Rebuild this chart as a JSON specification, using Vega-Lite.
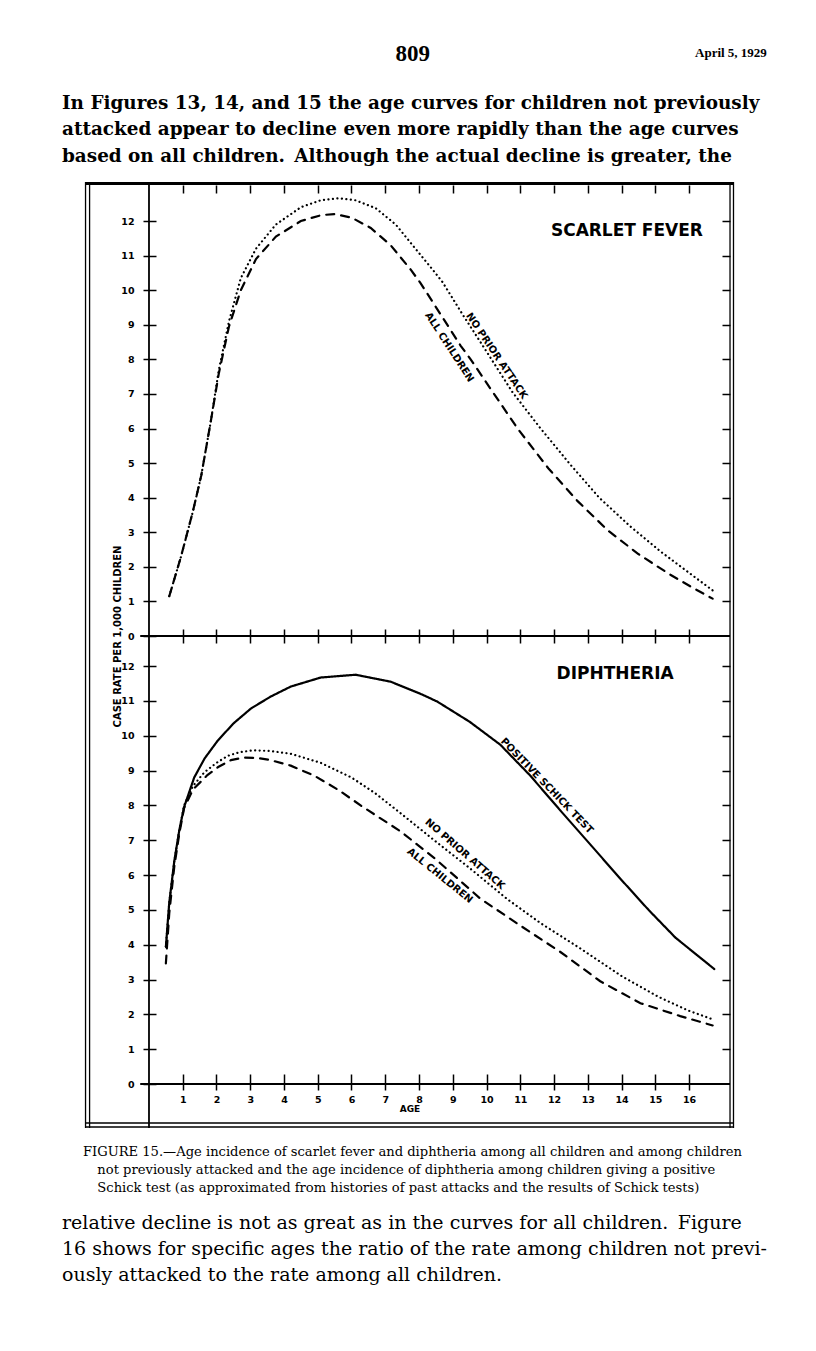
{
  "$schema": "https://vega.github.io/schema/vega-lite/v6.json",
  "background": "white",
  "padding": {"left": 62, "top": 42, "right": 10, "bottom": 10},
  "bounds": "flush",
  "spacing": 0,
  "title": {
    "text": "April 5, 1929",
    "anchor": "end",
    "frame": "bounds",
    "font": "Liberation Serif",
    "fontSize": 13,
    "fontWeight": "bold",
    "color": "black",
    "offset": -17
  },
  "config": {
    "view": {"stroke": null},
    "axis": {"grid": false, "labelFont": "DejaVu Sans", "labelFontWeight": "bold", "labelFontSize": 9.5, "labelColor": "black", "tickColor": "black", "domainColor": "black", "titleFont": "DejaVu Sans", "titleFontWeight": "bold", "titleFontSize": 10, "titleColor": "black", "labelFlush": false, "labelOverlap": false, "tickWidth": 1.5},
    "text": {"font": "DejaVu Sans", "fontWeight": "bold", "color": "black"},
    "rule": {"color": "black"},
    "line": {"color": "black"}
  },
  "datasets": {
    "scarlet": [
      {"series": "All children", "age": 0.6, "rate": 1.15},
      {"series": "All children", "age": 0.95, "rate": 2.3},
      {"series": "All children", "age": 1.3, "rate": 3.6},
      {"series": "All children", "age": 1.55, "rate": 4.65},
      {"series": "All children", "age": 1.83, "rate": 6.2},
      {"series": "All children", "age": 2.07, "rate": 7.6},
      {"series": "All children", "age": 2.37, "rate": 8.95},
      {"series": "All children", "age": 2.72, "rate": 10.0},
      {"series": "All children", "age": 3.17, "rate": 10.9},
      {"series": "All children", "age": 3.76, "rate": 11.55},
      {"series": "All children", "age": 4.5, "rate": 12.0},
      {"series": "All children", "age": 5.1, "rate": 12.17},
      {"series": "All children", "age": 5.5, "rate": 12.2},
      {"series": "All children", "age": 6.0, "rate": 12.1},
      {"series": "All children", "age": 6.57, "rate": 11.8},
      {"series": "All children", "age": 7.16, "rate": 11.3},
      {"series": "All children", "age": 7.75, "rate": 10.6},
      {"series": "All children", "age": 8.05, "rate": 10.2},
      {"series": "All children", "age": 8.64, "rate": 9.3},
      {"series": "All children", "age": 9.23, "rate": 8.4},
      {"series": "All children", "age": 9.53, "rate": 8.0},
      {"series": "All children", "age": 10.12, "rate": 7.15},
      {"series": "All children", "age": 10.92, "rate": 6.0},
      {"series": "All children", "age": 11.83, "rate": 4.85},
      {"series": "All children", "age": 12.7, "rate": 3.9},
      {"series": "All children", "age": 13.6, "rate": 3.05},
      {"series": "All children", "age": 14.5, "rate": 2.37},
      {"series": "All children", "age": 15.4, "rate": 1.8},
      {"series": "All children", "age": 16.1, "rate": 1.4},
      {"series": "All children", "age": 16.7, "rate": 1.08},
      {"series": "No prior attack", "age": 0.6, "rate": 1.15},
      {"series": "No prior attack", "age": 0.95, "rate": 2.3},
      {"series": "No prior attack", "age": 1.3, "rate": 3.6},
      {"series": "No prior attack", "age": 1.55, "rate": 4.65},
      {"series": "No prior attack", "age": 1.83, "rate": 6.2},
      {"series": "No prior attack", "age": 2.07, "rate": 7.7},
      {"series": "No prior attack", "age": 2.37, "rate": 9.1},
      {"series": "No prior attack", "age": 2.72, "rate": 10.35},
      {"series": "No prior attack", "age": 3.17, "rate": 11.2},
      {"series": "No prior attack", "age": 3.76, "rate": 11.9},
      {"series": "No prior attack", "age": 4.5, "rate": 12.4},
      {"series": "No prior attack", "age": 5.09, "rate": 12.6},
      {"series": "No prior attack", "age": 5.62, "rate": 12.66},
      {"series": "No prior attack", "age": 6.12, "rate": 12.6},
      {"series": "No prior attack", "age": 6.72, "rate": 12.37},
      {"series": "No prior attack", "age": 7.31, "rate": 11.9},
      {"series": "No prior attack", "age": 7.81, "rate": 11.3},
      {"series": "No prior attack", "age": 8.4, "rate": 10.6},
      {"series": "No prior attack", "age": 8.7, "rate": 10.23},
      {"series": "No prior attack", "age": 9.29, "rate": 9.3},
      {"series": "No prior attack", "age": 9.88, "rate": 8.41},
      {"series": "No prior attack", "age": 10.77, "rate": 7.05},
      {"series": "No prior attack", "age": 11.57, "rate": 6.04},
      {"series": "No prior attack", "age": 12.49, "rate": 4.95},
      {"series": "No prior attack", "age": 13.34, "rate": 4.0},
      {"series": "No prior attack", "age": 14.26, "rate": 3.17},
      {"series": "No prior attack", "age": 15.15, "rate": 2.45},
      {"series": "No prior attack", "age": 16.04, "rate": 1.8},
      {"series": "No prior attack", "age": 16.7, "rate": 1.32}
    ],
    "diphtheria": [
      {"series": "Positive Schick test", "age": 0.5, "rate": 3.94},
      {"series": "Positive Schick test", "age": 0.6, "rate": 5.2},
      {"series": "Positive Schick test", "age": 0.75, "rate": 6.4},
      {"series": "Positive Schick test", "age": 0.9, "rate": 7.3},
      {"series": "Positive Schick test", "age": 1.04, "rate": 7.95},
      {"series": "Positive Schick test", "age": 1.34, "rate": 8.8},
      {"series": "Positive Schick test", "age": 1.65, "rate": 9.35},
      {"series": "Positive Schick test", "age": 2.03, "rate": 9.85},
      {"series": "Positive Schick test", "age": 2.5, "rate": 10.35},
      {"series": "Positive Schick test", "age": 3.02, "rate": 10.78},
      {"series": "Positive Schick test", "age": 3.6, "rate": 11.12},
      {"series": "Positive Schick test", "age": 4.2, "rate": 11.41},
      {"series": "Positive Schick test", "age": 5.09, "rate": 11.67},
      {"series": "Positive Schick test", "age": 6.12, "rate": 11.75},
      {"series": "Positive Schick test", "age": 7.16, "rate": 11.55},
      {"series": "Positive Schick test", "age": 8.05, "rate": 11.2},
      {"series": "Positive Schick test", "age": 8.54, "rate": 10.98},
      {"series": "Positive Schick test", "age": 9.5, "rate": 10.4},
      {"series": "Positive Schick test", "age": 10.41, "rate": 9.74},
      {"series": "Positive Schick test", "age": 11.3, "rate": 8.85},
      {"series": "Positive Schick test", "age": 12.19, "rate": 7.85},
      {"series": "Positive Schick test", "age": 13.1, "rate": 6.85},
      {"series": "Positive Schick test", "age": 13.96, "rate": 5.9},
      {"series": "Positive Schick test", "age": 14.8, "rate": 5.0},
      {"series": "Positive Schick test", "age": 15.6, "rate": 4.2},
      {"series": "Positive Schick test", "age": 16.75, "rate": 3.3},
      {"series": "No prior attack", "age": 0.5, "rate": 3.94},
      {"series": "No prior attack", "age": 0.6, "rate": 5.2},
      {"series": "No prior attack", "age": 0.75, "rate": 6.4},
      {"series": "No prior attack", "age": 0.9, "rate": 7.3},
      {"series": "No prior attack", "age": 1.04, "rate": 8.0},
      {"series": "No prior attack", "age": 1.3, "rate": 8.55},
      {"series": "No prior attack", "age": 1.64, "rate": 8.95},
      {"series": "No prior attack", "age": 2.0, "rate": 9.22},
      {"series": "No prior attack", "age": 2.33, "rate": 9.42},
      {"series": "No prior attack", "age": 2.7, "rate": 9.53},
      {"series": "No prior attack", "age": 3.1, "rate": 9.58},
      {"series": "No prior attack", "age": 3.6, "rate": 9.56},
      {"series": "No prior attack", "age": 4.2, "rate": 9.48},
      {"series": "No prior attack", "age": 5.09, "rate": 9.22},
      {"series": "No prior attack", "age": 6.0, "rate": 8.8},
      {"series": "No prior attack", "age": 6.7, "rate": 8.35},
      {"series": "No prior attack", "age": 7.46, "rate": 7.77},
      {"series": "No prior attack", "age": 8.5, "rate": 6.96},
      {"series": "No prior attack", "age": 9.5, "rate": 6.2},
      {"series": "No prior attack", "age": 10.6, "rate": 5.32},
      {"series": "No prior attack", "age": 11.6, "rate": 4.62},
      {"series": "No prior attack", "age": 12.8, "rate": 3.88},
      {"series": "No prior attack", "age": 14.0, "rate": 3.1},
      {"series": "No prior attack", "age": 15.1, "rate": 2.5},
      {"series": "No prior attack", "age": 16.0, "rate": 2.1},
      {"series": "No prior attack", "age": 16.75, "rate": 1.84},
      {"series": "All children", "age": 0.5, "rate": 3.46},
      {"series": "All children", "age": 0.6, "rate": 4.9},
      {"series": "All children", "age": 0.75, "rate": 6.25},
      {"series": "All children", "age": 0.9, "rate": 7.2},
      {"series": "All children", "age": 1.04, "rate": 7.92},
      {"series": "All children", "age": 1.3, "rate": 8.45},
      {"series": "All children", "age": 1.73, "rate": 8.87},
      {"series": "All children", "age": 2.05, "rate": 9.1},
      {"series": "All children", "age": 2.43, "rate": 9.3},
      {"series": "All children", "age": 2.8, "rate": 9.37},
      {"series": "All children", "age": 3.2, "rate": 9.36},
      {"series": "All children", "age": 3.6, "rate": 9.3},
      {"series": "All children", "age": 4.2, "rate": 9.14},
      {"series": "All children", "age": 4.9, "rate": 8.85},
      {"series": "All children", "age": 5.6, "rate": 8.45},
      {"series": "All children", "age": 6.3, "rate": 7.98},
      {"series": "All children", "age": 7.46, "rate": 7.25},
      {"series": "All children", "age": 8.5, "rate": 6.45},
      {"series": "All children", "age": 9.82, "rate": 5.32},
      {"series": "All children", "age": 11.0, "rate": 4.55},
      {"series": "All children", "age": 12.19, "rate": 3.79},
      {"series": "All children", "age": 13.37, "rate": 2.95},
      {"series": "All children", "age": 14.56, "rate": 2.32},
      {"series": "All children", "age": 15.74, "rate": 1.95},
      {"series": "All children", "age": 16.7, "rate": 1.68}
    ]
  },
  "vconcat": [
    {
      "width": 649,
      "height": 454,
      "title": {
        "text": "\u200b\u2003\u2003\u2003\u2003\u2003\u2003\u2003\u2003\u2003\u2003\u2003\u2003\u2003\u2003\u2002809",
        "subtitle": ["In Figures 13, 14, and 15 the age curves for children not previously", "attacked appear to decline even more rapidly than the age curves", "based on all children.\u2002Although the actual decline is greater, the"],
        "anchor": "start", "frame": "group", "dx": -23, "offset": 16,
        "font": "Liberation Serif", "fontSize": 23, "fontWeight": "bold", "color": "black",
        "subtitleFont": "DejaVu Serif", "subtitleFontSize": 18.4, "subtitleFontWeight": "bold", "subtitleLineHeight": 26.5, "subtitleColor": "black", "subtitlePadding": 28
      },
      "data": {"name": "scarlet"},
      "layer": [
        {
          "mark": {"type": "line", "strokeWidth": 2.2, "strokeCap": "round"},
          "encoding": {
            "x": {"field": "age", "type": "quantitative", "scale": {"domain": [-1.896, 17.333], "nice": false, "zero": false},
                  "axis": {"orient": "bottom", "values": [1,2,3,4,5,6,7,8,9,10,11,12,13,14,15,16], "labels": false, "domain": false, "tickSize": 14, "offset": -7, "title": null}},
            "y": {"field": "rate", "type": "quantitative", "scale": {"domain": [0, 13.129], "nice": false, "zero": false},
                  "axis": {"orient": "left", "values": [0,1,2,3,4,5,6,7,8,9,10,11,12], "offset": -71, "tickSize": 13, "domain": false, "labelPadding": 9,
                           "title": "CASE RATE PER 1,000 CHILDREN", "titleX": -39, "titleY": 454, "titleAngle": -90, "titleAlign": "center", "titleBaseline": "middle"}},
            "strokeDash": {"field": "series", "type": "nominal", "legend": null,
                           "scale": {"domain": ["All children", "No prior attack", "Positive Schick test"], "range": [[8, 7], [0.1, 4.4], [1, 0]]}}
          }
        },
        {"data": {"values": [{}]}, "mark": {"type": "rule", "strokeWidth": 1.3},
         "encoding": {"x": {"datum": -1.88, "type": "quantitative",
                            "axis": {"orient": "top", "values": [1,2,3,4,5,6,7,8,9,10,11,12,13,14,15,16], "labels": false, "domain": false, "tickSize": 8, "offset": -11, "title": null}}}},
        {"data": {"values": [{}]}, "mark": {"type": "rule", "strokeWidth": 1.3}, "encoding": {"x": {"datum": -1.76, "type": "quantitative", "axis": null}}},
        {"data": {"values": [{}]}, "mark": {"type": "rule", "strokeWidth": 1.3}, "encoding": {"x": {"datum": 17.215, "type": "quantitative", "axis": null}}},
        {"data": {"values": [{}]}, "mark": {"type": "rule", "strokeWidth": 1.3}, "encoding": {"x": {"datum": 17.318, "type": "quantitative", "axis": null}}},
        {"data": {"values": [{}]}, "mark": {"type": "rule", "strokeWidth": 3},
         "encoding": {"y": {"datum": 13.086, "type": "quantitative",
                            "axis": {"orient": "right", "values": [1,2,3,4,5,6,7,8,9,10,11,12], "labels": false, "domain": false, "tickSize": 8, "offset": -12, "title": null}}}},
        {"data": {"values": [{}]}, "mark": {"type": "rule", "strokeWidth": 1.8}, "encoding": {"x": {"datum": 0, "type": "quantitative", "axis": null}}},
        {"data": {"values": [{}]}, "mark": {"type": "rule", "strokeWidth": 1.8},
         "encoding": {"x": {"datum": -0.26, "type": "quantitative", "axis": null}, "x2": {"datum": 17.215}, "y": {"datum": 0, "type": "quantitative", "axis": null}}},
        {"data": {"values": [{}]}, "mark": {"type": "text", "fontSize": 17, "align": "center", "baseline": "middle"},
         "encoding": {"x": {"datum": 14.16, "type": "quantitative", "axis": null}, "y": {"datum": 11.71, "type": "quantitative", "axis": null}, "text": {"value": "SCARLET FEVER"}}},
        {"data": {"values": [{}]}, "mark": {"type": "text", "fontSize": 10, "align": "center", "baseline": "middle", "angle": 57},
         "encoding": {"x": {"datum": 8.9, "type": "quantitative", "axis": null}, "y": {"datum": 8.35, "type": "quantitative", "axis": null}, "text": {"value": "ALL CHILDREN"}}},
        {"data": {"values": [{}]}, "mark": {"type": "text", "fontSize": 10, "align": "center", "baseline": "middle", "angle": 56},
         "encoding": {"x": {"datum": 10.3, "type": "quantitative", "axis": null}, "y": {"datum": 8.1, "type": "quantitative", "axis": null}, "text": {"value": "NO PRIOR ATTACK"}}}
      ],
      "resolve": {"axis": {"x": "independent", "y": "independent"}}
    },
    {
      "width": 649,
      "height": 492,
      "title": {
        "text": ["\u200b\u2003\u2002\u200aFIGURE 15.—Age incidence of scarlet fever and diphtheria among all children and among children", "\u200b\u2003\u2003\u2002\u2009not previously attacked and the age incidence of diphtheria among children giving a positive", "\u200b\u2003\u2003\u2002\u2009Schick test (as approximated from histories of past attacks and the results of Schick tests)"],
        "subtitle": ["relative decline is not as great as in the curves for all children.\u2002Figure", "16 shows for specific ages the ratio of the rate among children not previ-", "ously attacked to the rate among all children."],
        "orient": "bottom", "anchor": "start", "frame": "group", "dx": -23, "offset": 17,
        "font": "DejaVu Serif", "fontSize": 13.1, "fontWeight": "normal", "lineHeight": 18, "color": "black",
        "subtitleFont": "DejaVu Serif", "subtitleFontSize": 19, "subtitleLineHeight": 26, "subtitleColor": "black", "subtitlePadding": 19
      },
      "data": {"name": "diphtheria"},
      "layer": [
        {
          "mark": {"type": "line", "strokeWidth": 2.2, "strokeCap": "round"},
          "encoding": {
            "x": {"field": "age", "type": "quantitative", "scale": {"domain": [-1.896, 17.333], "nice": false, "zero": false},
                  "axis": {"orient": "bottom", "values": [1,2,3,4,5,6,7,8,9,10,11,12,13,14,15,16], "domain": false, "tickSize": 16, "offset": -54, "labelPadding": 4, "title": "AGE", "titleFontSize": 9, "titlePadding": 1}},
            "y": {"field": "rate", "type": "quantitative", "scale": {"domain": [-1.263, 12.862], "nice": false, "zero": false},
                  "axis": {"orient": "left", "values": [0,1,2,3,4,5,6,7,8,9,10,11,12], "offset": -71, "tickSize": 13, "domain": false, "labelPadding": 9, "title": null}},
            "strokeDash": {"field": "series", "type": "nominal", "legend": null,
                           "scale": {"domain": ["All children", "No prior attack", "Positive Schick test"], "range": [[8, 7], [0.1, 4.4], [1, 0]]}}
          }
        },
        {"data": {"values": [{}]}, "mark": {"type": "rule", "strokeWidth": 1.3}, "encoding": {"x": {"datum": -1.88, "type": "quantitative", "axis": null}}},
        {"data": {"values": [{}]}, "mark": {"type": "rule", "strokeWidth": 1.3}, "encoding": {"x": {"datum": -1.76, "type": "quantitative", "axis": null}}},
        {"data": {"values": [{}]}, "mark": {"type": "rule", "strokeWidth": 1.3}, "encoding": {"x": {"datum": 17.215, "type": "quantitative", "axis": null}}},
        {"data": {"values": [{}]}, "mark": {"type": "rule", "strokeWidth": 1.3}, "encoding": {"x": {"datum": 17.318, "type": "quantitative", "axis": null}}},
        {"data": {"values": [{}]}, "mark": {"type": "rule", "strokeWidth": 1.3},
         "encoding": {"y": {"datum": -1.235, "type": "quantitative",
                            "axis": {"orient": "right", "values": [1,2,3,4,5,6,7,8,9,10,11,12], "labels": false, "domain": false, "tickSize": 8, "offset": -12, "title": null}}}},
        {"data": {"values": [{}]}, "mark": {"type": "rule", "strokeWidth": 1.3}, "encoding": {"y": {"datum": -1.12, "type": "quantitative", "axis": null}}},
        {"data": {"values": [{}]}, "mark": {"type": "rule", "strokeWidth": 1.8}, "encoding": {"x": {"datum": 0, "type": "quantitative", "axis": null}}},
        {"data": {"values": [{}]}, "mark": {"type": "rule", "strokeWidth": 1.8},
         "encoding": {"x": {"datum": -0.26, "type": "quantitative", "axis": null}, "x2": {"datum": 17.215}, "y": {"datum": 0, "type": "quantitative", "axis": null}}},
        {"data": {"values": [{}]}, "mark": {"type": "text", "fontSize": 17, "align": "center", "baseline": "middle"},
         "encoding": {"x": {"datum": 13.81, "type": "quantitative", "axis": null}, "y": {"datum": 11.77, "type": "quantitative", "axis": null}, "text": {"value": "DIPHTHERIA"}}},
        {"data": {"values": [{}]}, "mark": {"type": "text", "fontSize": 10, "align": "center", "baseline": "middle", "angle": 46},
         "encoding": {"x": {"datum": 11.79, "type": "quantitative", "axis": null}, "y": {"datum": 8.56, "type": "quantitative", "axis": null}, "text": {"value": "POSITIVE SCHICK TEST"}}},
        {"data": {"values": [{}]}, "mark": {"type": "text", "fontSize": 10, "align": "center", "baseline": "middle", "angle": 41},
         "encoding": {"x": {"datum": 9.36, "type": "quantitative", "axis": null}, "y": {"datum": 6.6, "type": "quantitative", "axis": null}, "text": {"value": "NO PRIOR ATTACK"}}},
        {"data": {"values": [{}]}, "mark": {"type": "text", "fontSize": 10, "align": "center", "baseline": "middle", "angle": 39},
         "encoding": {"x": {"datum": 8.62, "type": "quantitative", "axis": null}, "y": {"datum": 5.98, "type": "quantitative", "axis": null}, "text": {"value": "ALL CHILDREN"}}}
      ],
      "resolve": {"axis": {"x": "independent", "y": "independent"}}
    }
  ]
}
